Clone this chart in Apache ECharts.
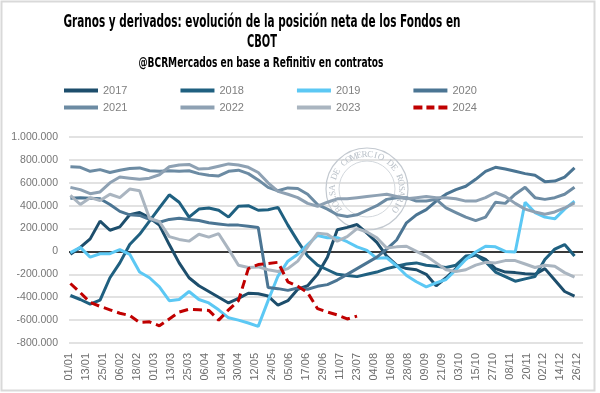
<!DOCTYPE html>
<html><head><meta charset="utf-8">
<script src="https://cdn.jsdelivr.net/npm/echarts@6/dist/echarts.min.js"></script>
<style>html,body{margin:0;padding:0;background:#fff}#c{width:600px;height:393px}</style>
</head><body><div id="c"></div>
<script>
// Tick labels (every 12 days, leap-year calendar)
const xTickLabels = ['01/01','13/01','25/01','06/02','18/02','01/03','13/03','25/03','06/04','18/04','30/04','12/05','24/05','05/06','17/06','29/06','11/07','23/07','04/08','16/08','28/08','09/09','21/09','03/10','15/10','27/10','08/11','20/11','02/12','14/12','26/12'];
const yTicks = [-800, -600, -400, -200, 0, 200, 400, 600, 800, 1000]; // thousands of contracts
const years = ['2017','2018','2019','2020','2021','2022','2023','2024'];

// Weekly net positions, thousands of contracts (first week = early January)
const v2017 = [-25,35,110,265,185,215,320,340,295,230,60,-100,-230,-300,-350,-400,-450,-410,-365,-370,-390,-470,-430,-330,-300,-200,-50,190,210,235,160,80,-40,-120,-150,-160,-200,-300,-230,-150,-60,-30,-70,-150,-180,-185,-195,-200,-150,-250,-350,-390];
const v2018 = [-385,-420,-460,-425,-230,-100,60,150,265,380,495,430,300,370,380,360,300,395,400,360,365,385,230,90,-40,-120,-160,-200,-210,-220,-200,-180,-150,-130,-110,-100,-120,-130,-140,-120,-40,-30,-90,-180,-220,-260,-240,-220,-70,20,60,-40];
const v2019 = [-10,35,-50,-20,-20,15,-25,-180,-230,-310,-430,-420,-350,-420,-450,-510,-580,-600,-625,-655,-430,-215,-85,-25,60,140,120,120,85,40,10,-60,-55,-125,-210,-265,-310,-275,-245,-160,-70,-5,45,40,0,-5,430,340,300,285,370,440];
const v2020 = [465,470,465,460,410,350,320,315,280,255,280,290,280,270,250,240,230,230,220,210,-315,-325,-340,-320,-330,-305,-290,-250,-200,-150,-100,-50,20,100,250,320,365,440,500,540,570,630,700,735,720,700,680,665,610,615,650,730];
const v2021 = [740,735,700,715,690,710,725,730,705,700,705,700,705,680,665,660,700,710,680,625,560,530,555,550,500,410,370,320,305,320,360,400,455,470,470,440,440,455,380,340,300,270,300,430,420,500,560,470,455,470,500,560];
const v2022 = [560,540,505,520,600,650,640,630,640,670,740,755,760,720,725,745,765,755,735,690,600,525,500,470,420,395,430,460,460,470,480,490,500,480,460,470,480,470,470,460,440,440,470,515,480,420,370,345,325,345,380,425];
const v2023 = [490,410,470,445,500,470,545,530,290,260,130,105,90,150,125,155,20,-120,-140,-135,-160,-175,-150,-85,40,160,150,90,130,200,170,120,30,40,45,0,-40,-100,-160,-175,-160,-120,-95,-100,-80,-80,-110,-140,-120,-130,-185,-225];
const v2024 = [-280,-360,-445,-480,-510,-540,-560,-620,-615,-650,-590,-530,-505,-510,-515,-600,-510,-430,-150,-115,-105,-95,-265,-305,-360,-500,-530,-555,-590,-565];

const values = [v2017, v2018, v2019, v2020, v2021, v2022, v2023, v2024];
const colors = ['#1D4E6C','#1F6080','#5CC8F4','#4B7593','#6C8BA3','#8EA1B3','#AAB5C0','#C00000'];

function fmt(v){
  if (v === 0) return '0';
  const s = String(Math.abs(v*1000)).replace(/\B(?=(\d{3})+(?!\d))/g, '.');
  return (v < 0 ? '-' : '') + s;
}

const series = years.map((y, k) => {
  const s = {
    name: y, type: 'line', symbol: 'none', smooth: false,
    data: values[k].map((v, i) => [1 + 7*i, v]),
    lineStyle: { color: colors[k], width: 3, type: y === '2024' ? [9,5] : 'solid', cap: 'butt' },
    itemStyle: { color: colors[k] },
    z: 2 + k
  };
  if (k === 0) {
    s.markLine = { silent: true, symbol: 'none', label: {show:false},
      lineStyle: { color: '#000', width: 1.5, type: 'solid' }, data: [{ yAxis: 0 }], z: 1 };
  }
  return s;
});

function scaleFor(text, font, target){
  const c = document.createElement('canvas').getContext('2d');
  c.font = font; return target / c.measureText(text).width;
}
const tFont = 'bold 17px "Liberation Sans Narrow", "DejaVu Sans Condensed", "Liberation Sans", Arial';
const sFont = 'bold 14px "Liberation Sans Narrow", "DejaVu Sans Condensed", "Liberation Sans", Arial';
const t1 = 'Granos y derivados: evolución de la posición neta de los Fondos en';
const t2 = 'CBOT';
const t3 = '@BCRMercados en base a Refinitiv en contratos';

const graphics = [
  { type:'rect', shape:{x:1.5,y:1.5,width:593,height:389}, style:{fill:'none', stroke:'#d9d9d9', lineWidth:2}, silent:true, z:0 },
  { type:'text', x:262, y:23, scaleX: scaleFor(t1,tFont,397), style:{text:t1, x:0, y:0, font:tFont, fill:'#000', align:'center', verticalAlign:'middle', textAlign:'center', textVerticalAlign:'middle'} },
  { type:'text', x:262, y:43, scaleX: scaleFor(t2,tFont,30), style:{text:t2, x:0, y:0, font:tFont, fill:'#000', align:'center', verticalAlign:'middle', textAlign:'center', textVerticalAlign:'middle'} },
  { type:'text', x:261, y:63, scaleX: scaleFor(t3,sFont,245), style:{text:t3, x:0, y:0, font:sFont, fill:'#000', align:'center', verticalAlign:'middle', textAlign:'center', textVerticalAlign:'middle'} },
  // watermark seal
  { type:'circle', shape:{cx:367, cy:189, r:41}, style:{fill:'none', stroke:'#c3c9d0', lineWidth:1.2}, silent:true, z:1 },
  { type:'circle', shape:{cx:367, cy:189, r:28}, style:{fill:'none', stroke:'#d3d8dd', lineWidth:1}, silent:true, z:1 }
];
const seal = 'BOLSA DE COMERCIO DE ROSARIO';
for (let k = 0; k < seal.length; k++) {
  const a = (215 - k * 9.3) * Math.PI / 180;
  graphics.push({ type:'text', x: 367 + 34.5*Math.cos(a), y: 189 - 34.5*Math.sin(a), rotation: a - Math.PI/2, silent:true, z:1,
    style:{ text: seal[k], x:0, y:0, font:'9px "Liberation Serif", serif', fill:'#b9c0c8', align:'center', verticalAlign:'middle', textAlign:'center', textVerticalAlign:'middle' } });
}

const solidIcon = 'path://M0,0H34V4H0Z';
const dashIcon = 'path://M0,0H9V4H0Z M13,0H21V4H13Z M25,0H34V4H25Z';
const legendData = years.map(y => ({ name: y, icon: y === '2024' ? dashIcon : solidIcon }));

const legendBase = {
  itemWidth: 34, itemHeight: 4, itemGap: 53, left: 59, orient: 'horizontal',
  textStyle: { color: '#7f7f7f', fontSize: 11, fontFamily: '"Liberation Sans", Arial' },
  selectedMode: false
};

const chart = echarts.init(document.getElementById('c'), null, { renderer: 'canvas' });
chart.setOption({
  animation: false,
  backgroundColor: '#fff',
  textStyle: { fontFamily: '"Liberation Sans", Arial' },
  graphic: graphics,
  legend: [
    Object.assign({}, legendBase, { data: legendData.slice(0,4), top: 80 }),
    Object.assign({}, legendBase, { data: legendData.slice(4), top: 97 })
  ],
  grid: { left: 69, right: 17, top: 137, bottom: 50, containLabel: false },
  xAxis: {
    type: 'value', min: 0, max: 364, interval: 12,
    axisLine: { show: false }, axisTick: { show: false }, splitLine: { show: false },
    axisLabel: { rotate: 90, margin: 10, fontSize: 11, color: '#6e6e6e', showMaxLabel: false,
      formatter: v => (v % 12 === 0 && v/12 < xTickLabels.length) ? xTickLabels[v/12] : '' }
  },
  yAxis: {
    type: 'value', min: yTicks[0], max: yTicks[yTicks.length-1], interval: 200,
    axisLine: { show: false }, axisTick: { show: false },
    splitLine: { lineStyle: { color: '#d9d9d9', width: 1.5 } },
    axisLabel: { fontSize: 10.5, color: '#767676', margin: 11, formatter: fmt }
  },
  series: series
});
</script></body></html>
